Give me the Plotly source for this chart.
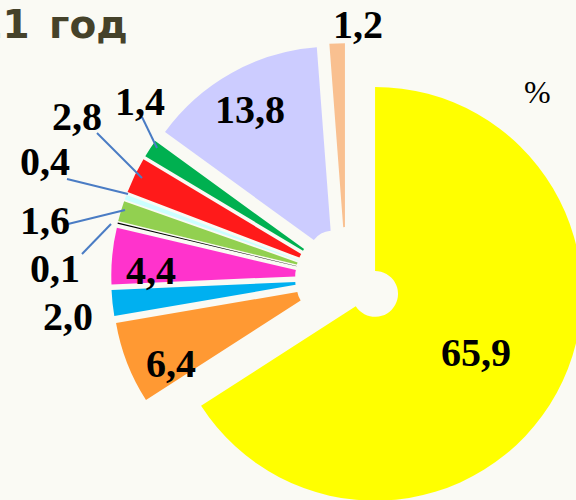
import plotly.graph_objects as go

# ---- data ----
title_text = "2011\u2002год"
unit_text = "%"
value_labels = ["65,9", "6,4", "2,0", "4,4", "0,1", "1,6", "0,4", "2,8", "1,4", "13,8", "1,2"]
values = [65.9, 6.4, 2.0, 4.4, 0.1, 1.6, 0.4, 2.8, 1.4, 13.8, 1.2]
slice_colors = ["#FFFF00", "#FF9933", "#00B0F0", "#FF33CC", "#000000", "#92D050",
                "#CCFFFF", "#FF1A1A", "#00B050", "#CCCCFF", "#F9C090"]
pulls = [0.16, 0.135, 0.135, 0.135, 0.135, 0.135, 0.135, 0.135, 0.135, 0.135, 0.135]

W, H = 600, 556


def px(x, y):
    return x / W, 1 - y / H


# label positions (pixels) and optional leader line endpoints
label_pos = {
    "65,9": (476, 352), "6,4": (171, 363), "2,0": (68, 316), "4,4": (151, 270),
    "0,1": (55, 268), "1,6": (45, 221), "0,4": (45, 162), "2,8": (77, 116),
    "1,4": (140, 102), "13,8": (250, 109), "1,2": (358, 25),
}
leaders = [
    ((142, 117), (157, 148)),
    ((97, 133), (142, 178)),
    ((67, 179), (128, 194)),
    ((68, 224), (125, 210)),
    ((82, 254), (111, 224)),
]

fig = go.Figure(go.Pie(
    labels=value_labels,
    values=values,
    sort=False,
    direction="clockwise",
    rotation=0,
    pull=pulls,
    hole=0.111,
    marker=dict(colors=slice_colors, line=dict(width=0)),
    textinfo="none",
    hoverinfo="label",
    showlegend=False,
    domain=dict(x=[106 / W, 586 / W], y=[0, 1]),
))

annotations = []
for lab in value_labels:
    x, y = px(*label_pos[lab])
    annotations.append(dict(x=x, y=y, xref="paper", yref="paper", text="<b>" + lab + "</b>",
                            showarrow=False, xanchor="center", yanchor="middle",
                            font=dict(family="Liberation Serif", size=40, color="#000000")))
ux, uy = px(537, 92)
annotations.append(dict(x=ux, y=uy, xref="paper", yref="paper", text=unit_text, showarrow=False,
                        xanchor="center", yanchor="middle",
                        font=dict(family="Liberation Serif", size=32, color="#000000")))
tx, ty = px(130, 25)
annotations.append(dict(x=tx, y=ty, xref="paper", yref="paper", text="<b>" + title_text + "</b>",
                        showarrow=False, xanchor="right", yanchor="middle",
                        font=dict(family="DejaVu Sans", size=39, color="#45422A")))

shapes = []
for (p0, p1) in leaders:
    x0, y0 = px(*p0)
    x1, y1 = px(*p1)
    shapes.append(dict(type="line", xref="paper", yref="paper", x0=x0, y0=y0, x1=x1, y1=y1,
                       line=dict(color="#4A7CC4", width=2)))

fig.update_layout(
    width=W, height=H,
    margin=dict(l=0, r=0, t=0, b=0),
    paper_bgcolor="#FAFAF4",
    plot_bgcolor="#FAFAF4",
    annotations=annotations,
    shapes=shapes,
)

fig.write_html("out.html", config={"displayModeBar": False}, post_script=(
    "document.body.style.margin='0';"
    "document.body.style.overflow='hidden';"
    "document.documentElement.style.overflow='hidden';"
))
